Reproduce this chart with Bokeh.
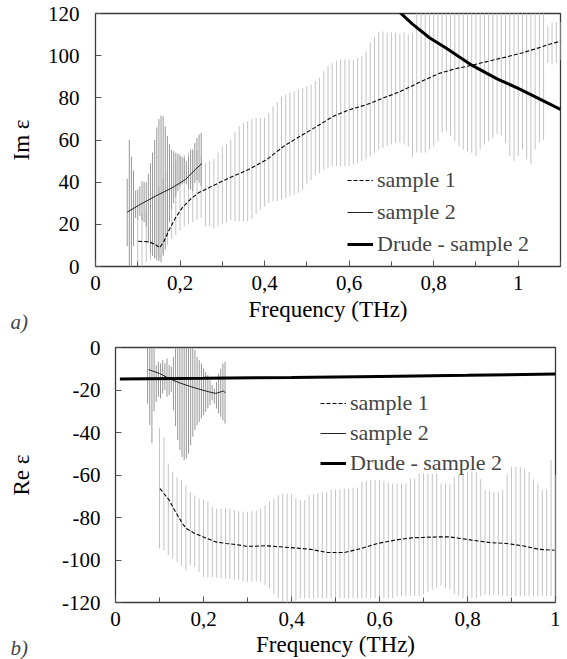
import numpy as np
from bokeh.plotting import figure
from bokeh.models import (FixedTicker, CustomJSTickFormatter, Legend, LegendItem,
                          Title, Range1d)
from bokeh.embed import file_html
from bokeh.resources import INLINE

# ---------------- data : panel a) Im eps ----------------
f2_top = np.linspace(0.075, 0.25, 36)
s2_top_hi = [41.6, 60, 52, 45.5, 36, 36.5, 38, 40.5, 40, 40, 44, 49, 54, 60, 66, 70, 71.6, 71.3,
             66.5, 62, 58, 55.5, 54.7, 54, 53.6, 53, 52, 51.5, 50, 52, 55.5, 55.5, 58.6, 61, 62.6, 63.4]
s2_top_lo = [9.6, 0, 0, 9.6, 23, 22, 24, 22, 21, 19, 11, 6.5, 5, 4, 3, 2.5, 2, 5,
             8, 14, 21, 27, 30, 33, 35.7, 38, 39, 39.7, 39, 37, 36.5, 35.7, 39.7, 41, 39.7, 38]
f1_top = np.round(np.arange(0.10, 1.1001, 0.01), 2)
s1_top_hi = [22, 25, 27, 30, 34, 38, 42, 45, 48, 50,
             52, 53, 54, 55, 55, 52, 49, 50, 51, 54,
             57, 58, 60, 64, 66.5, 68, 69, 70, 70.5, 70.5,
             70.5, 73, 76, 78, 80.5, 81.5, 82.4, 83, 84, 84.7,
             85.5, 86.3, 88, 89.5, 92.6, 95, 96.6, 97.4, 98.2, 98.2,
             98.2, 98.2, 99, 99.8, 102, 106, 109, 111, 111.5, 111,
             111, 111, 110.5, 111, 110, 111, 125, 125, 125, 125,
             125, 125, 125, 125, 125, 125, 125, 125, 125, 125,
             125, 125, 125, 125, 125, 125, 125, 125, 125, 125,
             125, 125, 125, 125, 125, 125, 125, 114, 115.6, 116,
             116]
s1_top_lo = [0, 0, 2, 3, 4, 4, 6, 10, 13, 15,
             17, 19, 20, 21, 22, 23, 19, 19, 18, 19,
             20, 21, 22, 21.5, 21.5, 21.5, 21.5, 22.5, 25, 27,
             28.5, 30, 31, 31, 31.8, 32.6, 33.4, 34, 35, 36.5,
             39, 41, 43, 44.4, 46, 46.8, 47.6, 47.6, 47.6, 47.6,
             47.6, 48.4, 49, 50, 50.8, 52.3, 54, 55.5, 56.3, 57,
             57.9, 58.7, 58.7, 57.9, 57, 52, 54, 54, 54, 55.5,
             57, 59.4, 63.4, 64, 62, 59.4, 57, 55.5, 54.7, 54,
             52.3, 55.5, 57.9, 59.4, 61, 62.6, 62, 58.7, 52.3, 50,
             52.3, 55.5, 50.8, 48.4, 55.5, 58.7, 60, 96.6, 95.8, 96.6,
             98]
s1_top_f = [0.101, 0.126, 0.142, 0.152, 0.162, 0.173, 0.189, 0.205, 0.225, 0.244, 0.268, 0.30,
            0.331, 0.362, 0.405, 0.445, 0.484, 0.524, 0.563, 0.603, 0.642, 0.682, 0.721, 0.772,
            0.812, 0.851, 0.887, 0.93, 0.97, 1.009, 1.048, 1.072, 1.10]
s1_top_v = [12, 11.7, 10.4, 8.9, 12, 16.8, 23, 27.8, 32, 35, 37.3, 40.5,
            43.3, 46, 50.7, 57, 61.8, 66.5, 71.3, 74.5, 76.8, 80, 83, 87.9,
            91.5, 93.8, 95.3, 97.4, 99.3, 101.3, 103.7, 105.3, 106.9]
s2_top_f = [0.075, 0.102, 0.142, 0.181, 0.213, 0.236, 0.252]
s2_top_v = [25.8, 29, 33.4, 37.3, 41.3, 46, 48.9]
drude_top_f = [0.72, 0.75, 0.79, 0.83, 0.89, 0.95, 1.0, 1.05, 1.1]
drude_top_v = [120.5, 115, 108.5, 103.5, 95.5, 89, 84.5, 79.5, 74.5]

# ---------------- data : panel b) Re eps ----------------
f2_bot = np.linspace(0.073, 0.249, 37)
s2_bot_hi = [0, 0, 0, 0, -8.3, -6.7, -7.5, -6, -7.5, -5.2, -8.3, -9, -4.4,
             0, 0, 0, 0, 0, 0, 0, 0, 0, -1.3, -4.4, -6, -7.5, -9.9, -11.5, -13,
             -15.4, -17.7, -19.3, -16.2, -12.2, -9.9, -7.5, -6.7]
s2_bot_lo = [-26.4, -36.5, -45, -30, -25.6, -23.2, -24, -21.6, -20, -23.2, -22.4, -20.9, -29.5,
             -37, -43.6, -48.3, -51.5, -53, -52.2, -49.9, -46, -42, -38.9, -36.5, -35, -33.4,
             -31.8, -30.3, -28.7, -27.1, -24.8, -26.4, -28.7, -31, -32.6, -34.2, -35.8]
f1_bot = np.round(np.arange(0.10, 1.0001, 0.01), 2)
s1_bot_hi = [-38, -42, -54.6, -58.5, -60.9, -62.4, -64.8, -67.9, -69.5, -71,
             -71.8, -72.6, -75, -75.8, -75.8, -75.8, -75.8, -76.5, -77, -77.3,
             -77.3, -77, -76.5, -75.8, -74.2, -72.6, -71, -69.5, -68.7, -68.7,
             -69, -71, -71.8, -71.8, -69.5, -69, -68.5, -68, -67.9, -67,
             -67, -66.8, -66.4, -66.4, -66, -66, -63.2, -62.8, -62.4, -62.4,
             -62.4, -62.8, -63.5, -64, -64, -64, -64, -61.6, -61.6, -59.3,
             -59.3, -59.3, -59.3, -59.3, -64, -64, -64, -61, -60, -59.3,
             -58.5, -58.5, -58.5, -62, -67, -67.5, -68, -68, -67, -60,
             -56.2, -56.2, -56.2, -57, -58.5, -62, -64, -67, -67, -53,
             -60]
s1_bot_lo = [-94.6, -95.4, -97.7, -99.3, -100.9, -102.7, -104.8, -102.4, -103.2, -105.6,
             -108, -108, -108, -108.4, -108.7, -108.7, -109, -109.5, -109.5, -110,
             -110.3, -110.3, -110, -110.3, -111.8, -113.4, -115.8, -118, -119.7, -121,
             -121, -119, -118, -118, -118, -118, -118, -118, -118, -118,
             -118, -118, -118, -118, -118, -118, -118, -118, -118, -118,
             -118, -118, -118, -118, -117, -117, -117, -117, -117, -117,
             -116, -115, -114, -113, -112, -113, -114, -116, -117, -118,
             -118, -118, -118, -117, -116.5, -116.5, -116.5, -116.5, -117, -117,
             -117, -117, -117, -117, -117, -117, -117, -117, -117, -117,
             -117]
s1_bot_f = [0.101, 0.122, 0.134, 0.152, 0.161, 0.18, 0.205, 0.228, 0.25, 0.273, 0.296, 0.318,
            0.341, 0.406, 0.444, 0.482, 0.52, 0.558, 0.596, 0.634, 0.672, 0.698, 0.736, 0.758,
            0.812, 0.85, 0.887, 0.925, 0.963, 0.998]
s1_bot_v = [-66.4, -71.8, -76.5, -82.8, -85.2, -87.5, -89.6, -91.5, -92.2, -92.7, -93.5, -93.5,
            -93.3, -94.3, -95, -96.5, -96.5, -94.6, -92.2, -90.7, -89.6, -89.4, -89.1, -89.1,
            -90.7, -91.8, -92.2, -93.3, -95, -95.4]
s2_bot_f = [0.075, 0.1, 0.122, 0.145, 0.168, 0.19, 0.213, 0.228, 0.239, 0.245, 0.25]
s2_bot_v = [-10.4, -12.2, -14.6, -16.6, -18.2, -19.6, -20.9, -21.6, -20.9, -20.5, -21.3]
drude_bot_f = [0.01, 0.2, 0.4, 0.6, 0.8, 1.0]
drude_bot_v = [-14.8, -14.5, -14.1, -13.6, -13.1, -12.5]

legend_labels = ["sample 1", "sample 2", "Drude - sample 2"]

FONT = "Liberation Serif"
LIGHT = "#c4c4c4"
DARK = "#979797"

xfmt = CustomJSTickFormatter(code="const v = Math.round(tick*10)/10; return v.toString().replace('.', ',');")
yfmt = CustomJSTickFormatter(code="return Math.round(tick).toString();")


def style(p, xmax, yticks, ylabel, ytick_stand, ylab_stand, xtick_stand, xlab_stand):
    p.xgrid.visible = False
    p.ygrid.visible = False
    p.outline_line_color = "#3a3a3a"
    p.outline_line_width = 1.3
    p.background_fill_color = "white"
    p.border_fill_color = "white"
    major = [round(0.2 * i, 1) for i in range(int(round(xmax / 0.2)) + 1)]
    minor = [round(0.1 * i, 1) for i in range(int(round(xmax / 0.1)) + 1)]
    p.xaxis.ticker = FixedTicker(ticks=major, minor_ticks=minor)
    p.yaxis.ticker = FixedTicker(ticks=yticks)
    p.xaxis.formatter = xfmt
    p.yaxis.formatter = yfmt
    for ax in (p.xaxis[0], p.yaxis[0]):
        ax.axis_line_color = None
        ax.major_tick_in = 6
        ax.major_tick_out = 0
        ax.minor_tick_in = 5
        ax.minor_tick_out = 0
        ax.major_tick_line_color = "#555555"
        ax.minor_tick_line_color = "#555555"
        ax.major_label_text_font = FONT
        ax.major_label_text_font_size = "21px"
        ax.major_label_text_color = "black"
        ax.axis_label_text_font = FONT
        ax.axis_label_text_font_size = "23px"
        ax.axis_label_text_font_style = "normal"
        ax.axis_label_text_color = "black"
    p.yaxis.minor_tick_line_color = None
    p.xaxis.axis_label = "Frequency (THz)"
    p.yaxis.axis_label = ylabel
    p.yaxis.major_label_standoff = ytick_stand
    p.yaxis.axis_label_standoff = ylab_stand
    p.xaxis.major_label_standoff = xtick_stand
    p.xaxis.axis_label_standoff = xlab_stand


def add_legend(p, rs, loc, spacing):
    items = [LegendItem(label=l, renderers=[r]) for l, r in zip(legend_labels, rs)]
    lg = Legend(items=items, location=loc, label_text_font=FONT, label_text_font_size="22px",
                glyph_width=26, glyph_height=20, label_standoff=4, spacing=spacing, padding=0,
                margin=0, border_line_color=None, background_fill_alpha=0)
    p.add_layout(lg)


def panel_tag(p, text, offset, standoff):
    t = Title(text=text, align="left", vertical_align="top", offset=offset, standoff=standoff,
              text_font=FONT, text_font_size="21px", text_font_style="italic")
    p.add_layout(t, "below")


# ---------------- panel a ----------------
p1 = figure(frame_width=465, frame_height=253, min_border_left=95, min_border_right=2,
            min_border_top=13, min_border_bottom=69, x_range=Range1d(0, 1.1),
            y_range=Range1d(0, 120), output_backend="svg", toolbar_location=None)
p1.segment(x0=f1_top, y0=s1_top_lo, x1=f1_top, y1=s1_top_hi, line_color=LIGHT, line_width=1)
p1.segment(x0=f2_top, y0=s2_top_lo, x1=f2_top, y1=s2_top_hi, line_color=DARK, line_width=1)
r1 = p1.line(s1_top_f, s1_top_v, line_color="black", line_width=1.1, line_dash="4 2")
r2 = p1.line(s2_top_f, s2_top_v, line_color="#222222", line_width=1)
r3 = p1.line(drude_top_f, drude_top_v, line_color="black", line_width=3)
style(p1, 1.1, [0, 20, 40, 60, 80, 100, 120], "Im ε", 16, 11, 9, 4)
add_legend(p1, [r1, r2, r3], (252, 9), 6)
panel_tag(p1, "a)", -85, -29)

# ---------------- panel b ----------------
p2 = figure(frame_width=440, frame_height=255, min_border_left=115, min_border_right=5,
            min_border_top=12, min_border_bottom=57, x_range=Range1d(0, 1.0),
            y_range=Range1d(-120, 0), output_backend="svg", toolbar_location=None)
p2.segment(x0=f1_bot, y0=s1_bot_lo, x1=f1_bot, y1=s1_bot_hi, line_color=LIGHT, line_width=1)
p2.segment(x0=f2_bot, y0=s2_bot_lo, x1=f2_bot, y1=s2_bot_hi, line_color=DARK, line_width=1)
q1 = p2.line(s1_bot_f, s1_bot_v, line_color="black", line_width=1.1, line_dash="4 2")
q2 = p2.line(s2_bot_f, s2_bot_v, line_color="#222222", line_width=1)
q3 = p2.line(drude_bot_f, drude_bot_v, line_color="black", line_width=3)
style(p2, 1.0, [-120, -100, -80, -60, -40, -20, 0], "Re ε", 15, 25, 9, 3)
add_legend(p2, [q1, q2, q3], (205, 126), 4)
panel_tag(p2, "b)", -105, -47)

p = [p1, p2]
open("out.html", "w").write(file_html(p, INLINE))
